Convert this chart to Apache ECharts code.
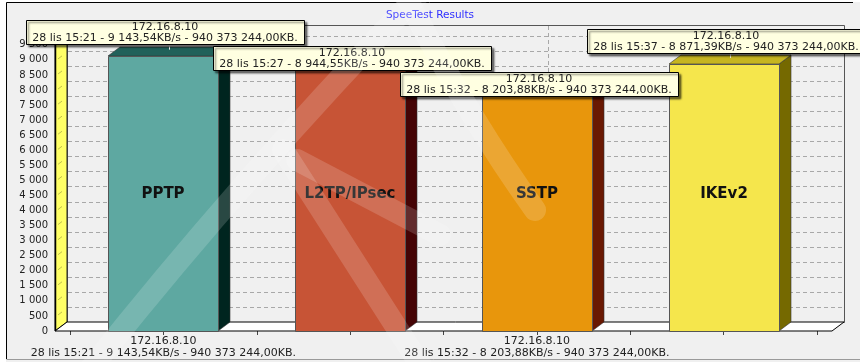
<!DOCTYPE html>
<html>
<head>
<meta charset="utf-8">
<script src="https://cdn.jsdelivr.net/npm/echarts@6/dist/echarts.min.js"></script>
<style>
  html, body { margin: 0; padding: 0; background: #fff; }
  #chart { width: 860px; height: 362px; }
</style>
</head>
<body>
<div id="chart"></div>
<script>
// Speed test results per VPN protocol
const categories = ['PPTP', 'L2TP/IPsec', 'SSTP', 'IKEv2'];
const speedKBs = [9143.54, 8944.55, 8203.88, 8871.39];
const testTimes = ['28 lis 15:21', '28 lis 15:27', '28 lis 15:32', '28 lis 15:37'];
const transferredKB = [940373244.00, 940373244.00, 940373244.00, 940373244.00];
const hostAddress = '172.16.8.10';
const yMax = 9860;
const yStep = 500;

// Styling
const FONT = '"DejaVu Sans", Verdana, sans-serif';
const frontColors = ['#5ea8a1', '#c75436', '#e8960c', '#f5e64c'];
const sideColors = ['#00251f', '#450405', '#691802', '#756900'];
const topColors = ['#21615a', '#7d2615', '#a65a08', '#c6b520'];
const DX = 12, DY = 9;            // depth offset of the pseudo-3D scene
const barUnits = 0.589;           // bar width in category units
const tipTop = [-36, -16, -12, -35]; // tip box top relative to bar top (px)

function fmtNum(v, dec) {
  const parts = v.toFixed(dec).split('.');
  const int = parts[0].replace(/\B(?=(\d{3})+(?!\d))/g, ' ');
  return parts.length > 1 ? int + ',' + parts[1] : int;
}
function detailText(i) {
  return testTimes[i] + ' - ' + fmtNum(speedKBs[i], 2) + 'KB/s - ' + fmtNum(transferredKB[i], 2) + 'KB.';
}

const measureCtx = document.createElement('canvas').getContext('2d');
measureCtx.font = '11px ' + FONT;

const barData = speedKBs.map((v, i) => [i, v]);

// faint background watermark strokes
const watermarkStyle = { stroke: 'rgba(255,255,255,0.16)', lineWidth: 22, fill: null, lineCap: 'round' };
const watermarkCurves = [
  { x1: 88, y1: 372, cpx1: 240, cpy1: 180, x2: 425, y2: -12 },
  { x1: 283, y1: 150, cpx1: 354, cpy1: 261, x2: 425, y2: 372 },
  { x1: 297, y1: 160, cpx1: 368, cpy1: 197, x2: 440, y2: 235 },
  { x1: 405, y1: -5, cpx1: 470, cpy1: 120, x2: 535, y2: 210 }
];

const chart = echarts.init(document.getElementById('chart'), null, { renderer: 'canvas' });

chart.setOption({
  animation: false,
  backgroundColor: '#f0f0f0',
  title: {
    text: 'SpeeTest Results',
    left: 'center',
    top: 5,
    textStyle: { color: '#2e2eff', fontSize: 10.5, fontWeight: 'normal', fontFamily: FONT }
  },
  graphic: [
    { type: 'rect', shape: { x: 0, y: 0, width: 860, height: 2 }, style: { fill: '#fff' }, silent: true },
    { type: 'rect', shape: { x: 0, y: 0, width: 6, height: 362 }, style: { fill: '#fff' }, silent: true },
    { type: 'polyline', shape: { points: [[6.5, 359], [6.5, 2.5], [853, 2.5]] },
      style: { stroke: '#000', lineWidth: 1, fill: null }, silent: true },
    { type: 'line', shape: { x1: 6.5, y1: 359.5, x2: 860, y2: 359.5 },
      style: { stroke: '#9a9a9a', lineWidth: 1 }, silent: true }
  ].concat(watermarkCurves.map(c => ({
    type: 'bezierCurve', shape: c, style: watermarkStyle, z: 100, silent: true
  }))),
  grid: { left: 70, right: 43, top: 34, bottom: 31 },
  xAxis: {
    type: 'value',
    min: -0.5,
    max: 3.5,
    interval: 0.5,
    axisLine: { show: false },
    axisTick: { show: true, length: 4, lineStyle: { color: '#444' } },
    splitLine: { show: false },
    axisLabel: {
      margin: 4,
      color: '#222',
      fontSize: 11,
      lineHeight: 12,
      fontFamily: FONT,
      formatter: function (v) {
        // alternate category labels, as the full texts would overlap
        if (v === 0 || v === 2) return hostAddress + '\n' + detailText(v);
        return '';
      }
    }
  },
  yAxis: {
    type: 'value',
    min: 0,
    max: yMax,
    interval: yStep,
    offset: 15,
    axisLine: { show: true, lineStyle: { color: '#000' } },
    axisTick: { show: true, length: 4, lineStyle: { color: '#333' } },
    splitLine: { show: false },
    axisLabel: {
      margin: 7,
      color: '#222',
      fontSize: 10,
      fontFamily: FONT,
      showMaxLabel: false,
      formatter: v => fmtNum(v, 0)
    }
  },
  series: [
    {
      // walls, floor and grid of the scene
      type: 'custom',
      z: 1,
      silent: true,
      data: [[0, 0]],
      encode: { x: 0, y: 1 },
      renderItem: function (params, api) {
        const cs = params.coordSys;
        const L = cs.x - 15, R = cs.x + cs.width + 15;
        const T = cs.y, B = cs.y + cs.height;
        const children = [];
        children.push({
          type: 'rect',
          shape: { x: L + DX + 0.5, y: T - DY + 0.5, width: R - L, height: B - T },
          style: { fill: '#f0f0f0', stroke: '#555', lineWidth: 1 }
        });
        for (let v = yStep; v < yMax; v += yStep) {
          const y = Math.round(api.coord([0, v])[1]) - DY + 0.5;
          children.push({
            type: 'line',
            shape: { x1: L + DX + 1, y1: y, x2: R + DX, y2: y },
            style: { stroke: '#a8a8a8', lineWidth: 1, lineDash: [4, 3] }
          });
        }
        children.push({
          type: 'line',
          shape: { x1: 548.5, y1: T - DY + 1, x2: 548.5, y2: B - DY },
          style: { stroke: '#a8a8a8', lineWidth: 1, lineDash: [4, 3] }
        });
        children.push({
          type: 'polygon',
          shape: { points: [[L, B], [L, T], [L + DX, T - DY], [L + DX, B - DY]] },
          style: { fill: '#ffff66', stroke: '#222', lineWidth: 1 }
        });
        for (let v = yStep; v < yMax; v += yStep) {
          const y = api.coord([0, v])[1];
          children.push({
            type: 'line',
            shape: { x1: L + 3, y1: y - 1, x2: L + 7, y2: y - 4 },
            style: { stroke: 'rgba(0,0,0,0.25)', lineWidth: 1 }
          });
        }
        children.push({
          type: 'polygon',
          shape: { points: [[L, B], [R, B], [R + DX, B - DY], [L + DX, B - DY]] },
          style: { fill: '#ffffff', stroke: '#000', lineWidth: 1 }
        });
        children.push({
          type: 'line',
          shape: { x1: L + 0.5, y1: T, x2: L + 0.5, y2: B },
          style: { stroke: '#000', lineWidth: 1.5 }
        });
        return { type: 'group', children: children };
      }
    },
    {
      // pseudo-3D bars
      type: 'custom',
      z: 3,
      silent: true,
      data: barData,
      encode: { x: 0, y: 1 },
      renderItem: function (params, api) {
        const i = api.value(0);
        const top = api.coord([i, api.value(1)]);
        const base = api.coord([i, 0]);
        const hw = api.size([barUnits, 0])[0] / 2;
        const x0 = Math.round(top[0] - hw), x1 = Math.round(top[0] + hw);
        const yT = Math.round(top[1]), yB = Math.round(base[1]);
        const cs = params.coordSys;
        return {
          type: 'group',
          children: [
            {
              type: 'polygon',
              shape: { points: [[x1, yB], [x1, yT], [x1 + DX, yT - DY], [x1 + DX, yB - DY]] },
              style: { fill: sideColors[i], stroke: '#333', lineWidth: 0.6 }
            },
            {
              type: 'polygon',
              shape: { points: [[x0, yT], [x1, yT], [x1 + DX, yT - DY], [x0 + DX, yT - DY]] },
              style: { fill: topColors[i], stroke: '#333', lineWidth: 0.6 }
            },
            {
              type: 'rect',
              shape: { x: x0 + 0.5, y: yT + 0.5, width: x1 - x0, height: yB - yT },
              style: { fill: frontColors[i], stroke: '#555', lineWidth: 1 }
            },
            {
              type: 'text',
              x: (x0 + x1) / 2,
              y: cs.y + cs.height * 0.539,
              style: {
                text: categories[i],
                fill: '#111',
                font: 'bold 15px ' + FONT,
                align: 'center',
                verticalAlign: 'middle'
              }
            }
          ]
        };
      }
    },
    {
      // value tips above the bars
      type: 'custom',
      z: 5,
      silent: true,
      data: barData,
      encode: { x: 0, y: 1 },
      renderItem: function (params, api) {
        const i = api.value(0);
        const top = api.coord([i, api.value(1)]);
        const line2 = detailText(i);
        const w = Math.ceil(measureCtx.measureText(line2).width) + 12;
        const h = 24;
        const cx = Math.round(top[0]) + 2;
        const bx = Math.round(cx - w / 2) + 0.5;
        const by = Math.round(top[1] + tipTop[i]) + 0.5;
        const children = [];
        if (by + h < top[1] - DY) {
          children.push({
            type: 'line',
            shape: { x1: cx + 4.5, y1: by + h, x2: cx + 4.5, y2: top[1] - DY + 3 },
            style: { stroke: '#ffffff', lineWidth: 1 }
          });
        }
        children.push({
          type: 'rect',
          shape: { x: bx, y: by, width: w, height: h },
          style: {
            fill: '#ffffe1', stroke: '#000', lineWidth: 1,
            shadowColor: 'rgba(0,0,0,0.55)', shadowBlur: 2, shadowOffsetX: 2, shadowOffsetY: 2
          }
        });
        children.push({
          type: 'text', x: cx, y: by + 6.5,
          style: { text: hostAddress, fill: '#222', font: '11px ' + FONT, align: 'center', verticalAlign: 'middle' }
        });
        children.push({
          type: 'text', x: cx, y: by + 18,
          style: { text: line2, fill: '#222', font: '11px ' + FONT, align: 'center', verticalAlign: 'middle' }
        });
        return { type: 'group', children: children };
      }
    }
  ]
});
</script>
</body>
</html>
